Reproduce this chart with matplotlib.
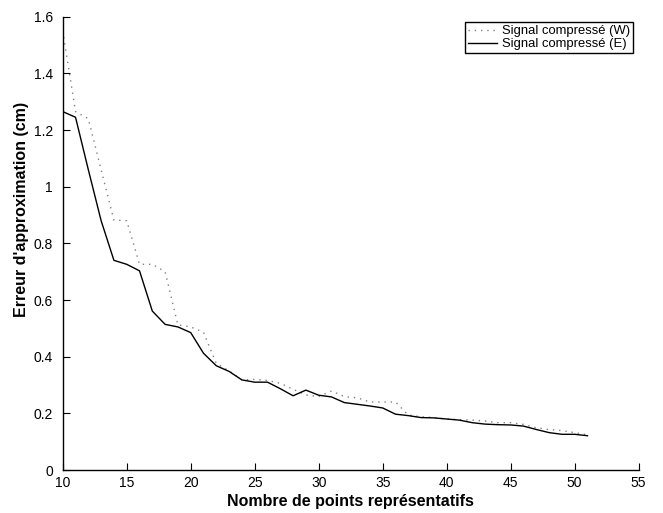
import numpy as np
import matplotlib
matplotlib.use("Agg")
import matplotlib.pyplot as plt

plt.rcParams["font.family"] = ["Liberation Sans", "DejaVu Sans"]

# number of representative points kept by the compression
n_points = np.arange(10, 52)

# approximation error (cm), W compression
err_w = [1.55, 1.265, 1.24, 1.06, 0.882, 0.88, 0.726, 0.726, 0.70, 0.512,
         0.505, 0.486, 0.376, 0.35, 0.318, 0.32, 0.316, 0.306, 0.285, 0.265,
         0.259, 0.279, 0.259, 0.255, 0.240, 0.240, 0.240, 0.194, 0.188, 0.185,
         0.180, 0.178, 0.176, 0.173, 0.167, 0.167, 0.161, 0.149, 0.143, 0.139,
         0.132, 0.124]

# approximation error (cm), E compression
err_e = [1.265, 1.245, 1.06, 0.88, 0.740, 0.726, 0.703, 0.561, 0.514, 0.505,
         0.485, 0.412, 0.368, 0.348, 0.318, 0.310, 0.310, 0.287, 0.262, 0.282,
         0.264, 0.258, 0.238, 0.232, 0.226, 0.219, 0.197, 0.192, 0.185, 0.184,
         0.180, 0.176, 0.167, 0.162, 0.160, 0.159, 0.155, 0.143, 0.132, 0.126,
         0.126, 0.121]

x_ticks = [10, 15, 20, 25, 30, 35, 40, 45, 50, 55]
y_ticks = [0, 0.2, 0.4, 0.6, 0.8, 1, 1.2, 1.4, 1.6]
y_tick_labels = ["0", "0.2", "0.4", "0.6", "0.8", "1", "1.2", "1.4", "1.6"]

fig = plt.figure(figsize=(6.63, 5.13), dpi=100)
ax = fig.add_axes([0.0946, 0.0838, 0.8687, 0.8837])

ax.plot(n_points, err_w, color="#808080", linestyle=(0, (1, 3.5)), lw=1.0,
        label="Signal compressé (W)")
ax.plot(n_points, err_e, color="black", lw=1.0, label="Signal compressé (E)")

ax.set_xlim(10, 55)
ax.set_ylim(0, 1.6)
ax.set_xticks(x_ticks)
ax.set_yticks(y_ticks)
ax.set_yticklabels(y_tick_labels)
ax.tick_params(direction="in", length=5, width=0.8, labelsize=10)
ax.tick_params(axis="y", pad=7)
ax.tick_params(axis="x", pad=4)

for side in ("top", "right"):
    ax.spines[side].set_visible(False)
for side in ("left", "bottom"):
    ax.spines[side].set_linewidth(1.0)

ax.set_xlabel("Nombre de points représentatifs", fontsize=11.5, fontweight="bold",
              labelpad=3)
ax.set_ylabel("Erreur d'approximation (cm)", fontsize=11.5, fontweight="bold")
ax.yaxis.set_label_coords(-0.058, 0.575)

leg = ax.legend(loc="upper right", fontsize=9.4, fancybox=False, framealpha=1,
                edgecolor="black", borderaxespad=0.4, handlelength=2.2,
                handletextpad=0.4, borderpad=0.25, labelspacing=0.05)
leg.get_frame().set_linewidth(1.0)

fig.savefig("out.png", dpi=100)
